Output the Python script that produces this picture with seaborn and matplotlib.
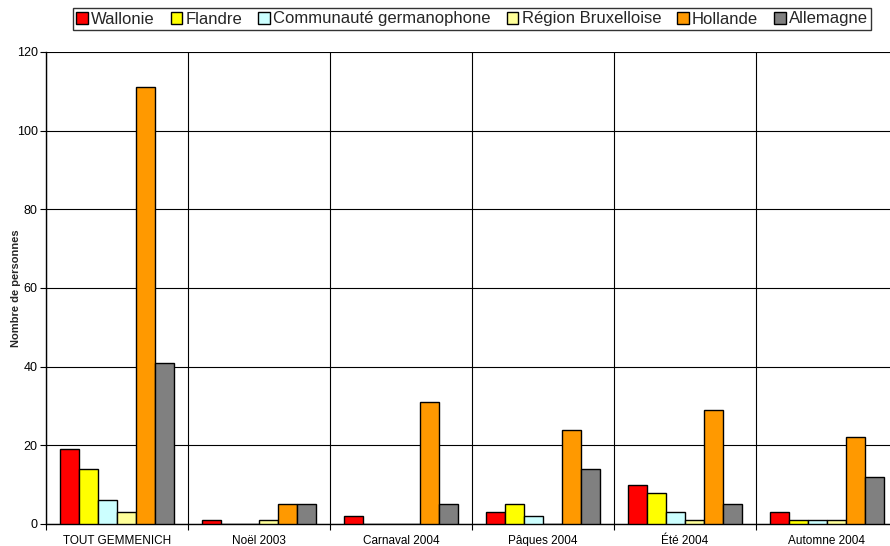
import matplotlib
matplotlib.use("Agg")
import matplotlib.pyplot as plt
import seaborn as sns
import pandas as pd
from matplotlib.ticker import FixedLocator
from matplotlib.patches import Patch

categories = ["TOUT GEMMENICH", "Noël 2003", "Carnaval 2004", "Pâques 2004", "Été 2004", "Automne 2004"]
series = ["Wallonie", "Flandre", "Communauté germanophone", "Région Bruxelloise", "Hollande", "Allemagne"]
wallonie = [19, 1, 2, 3, 10, 3]
flandre = [14, 0, 0, 5, 8, 1]
communaute = [6, 0, 0, 2, 3, 1]
bruxelles = [3, 1, 0, 0, 1, 1]
hollande = [111, 5, 31, 24, 29, 22]
allemagne = [41, 5, 5, 14, 5, 12]
colors = ["#FF0000", "#FFFF00", "#CCFFFF", "#FFFF99", "#FF9900", "#808080"]
y_ticks = [0, 20, 40, 60, 80, 100, 120]

values = [wallonie, flandre, communaute, bruxelles, hollande, allemagne]
rows = []
for s, vals in zip(series, values):
    for c, v in zip(categories, vals):
        rows.append({"Catégorie": c, "Région": s, "Nombre": v})
df = pd.DataFrame(rows)

sns.set_theme(style="white")
plt.rcParams["font.family"] = ["Liberation Sans", "DejaVu Sans"]

fig = plt.figure(figsize=(8.9, 5.46), dpi=100)
W, H = 890, 546
ax = fig.add_axes([46 / W, (H - 524) / H, (898 - 46) / W, (524 - 52) / H])

sns.barplot(data=df, x="Catégorie", y="Nombre", hue="Région", order=categories,
            hue_order=series, palette=colors, width=0.8, gap=0,
            edgecolor="black", linewidth=1.0, saturation=1, ax=ax, legend=False,
            zorder=3)

ax.set_ylim(0, 120)
ax.set_xlim(-0.5, len(categories) - 0.5)
ax.set_yticks(y_ticks)
ax.set_xlabel("")
ax.set_ylabel("Nombre de personnes", fontsize=8, fontweight="bold")
ax.yaxis.set_label_coords((21 - 46) / (898 - 46), 0.5)
ax.tick_params(axis="y", labelsize=9, length=4, width=0.8, color="black", direction="out", left=True, pad=2)
ax.tick_params(axis="x", which="major", labelsize=8.5, length=0, pad=8)
ax.xaxis.set_minor_locator(FixedLocator([i + 0.5 for i in range(len(categories) - 1)] + [-0.5]))
ax.tick_params(axis="x", which="minor", length=4, width=0.8, color="black", direction="out", bottom=True)
for t in ax.get_xticklabels() + ax.get_yticklabels():
    t.set_color("black")

ax.grid(False)
ax.yaxis.grid(True, color="black", linewidth=0.8, zorder=0)
ax.xaxis.grid(True, which="minor", color="black", linewidth=0.8, zorder=0)
ax.set_axisbelow(True)
for side in ["top", "right"]:
    ax.spines[side].set_visible(False)
for side in ["left", "bottom"]:
    ax.spines[side].set_visible(True)
    ax.spines[side].set_color("black")
    ax.spines[side].set_linewidth(1.0)

handles = [Patch(facecolor=c, edgecolor="black", linewidth=1.0) for c in colors]
leg = fig.legend(handles, series, loc="center", bbox_to_anchor=(472 / W, 1 - 19 / H),
                 ncol=6, frameon=True, fontsize=12, handlelength=0.7, handleheight=0.7,
                 handletextpad=0.2, columnspacing=0.95, borderpad=0.2, fancybox=False)
leg.get_frame().set_edgecolor("black")
leg.get_frame().set_linewidth(1.0)

fig.savefig("out.png", dpi=100)
